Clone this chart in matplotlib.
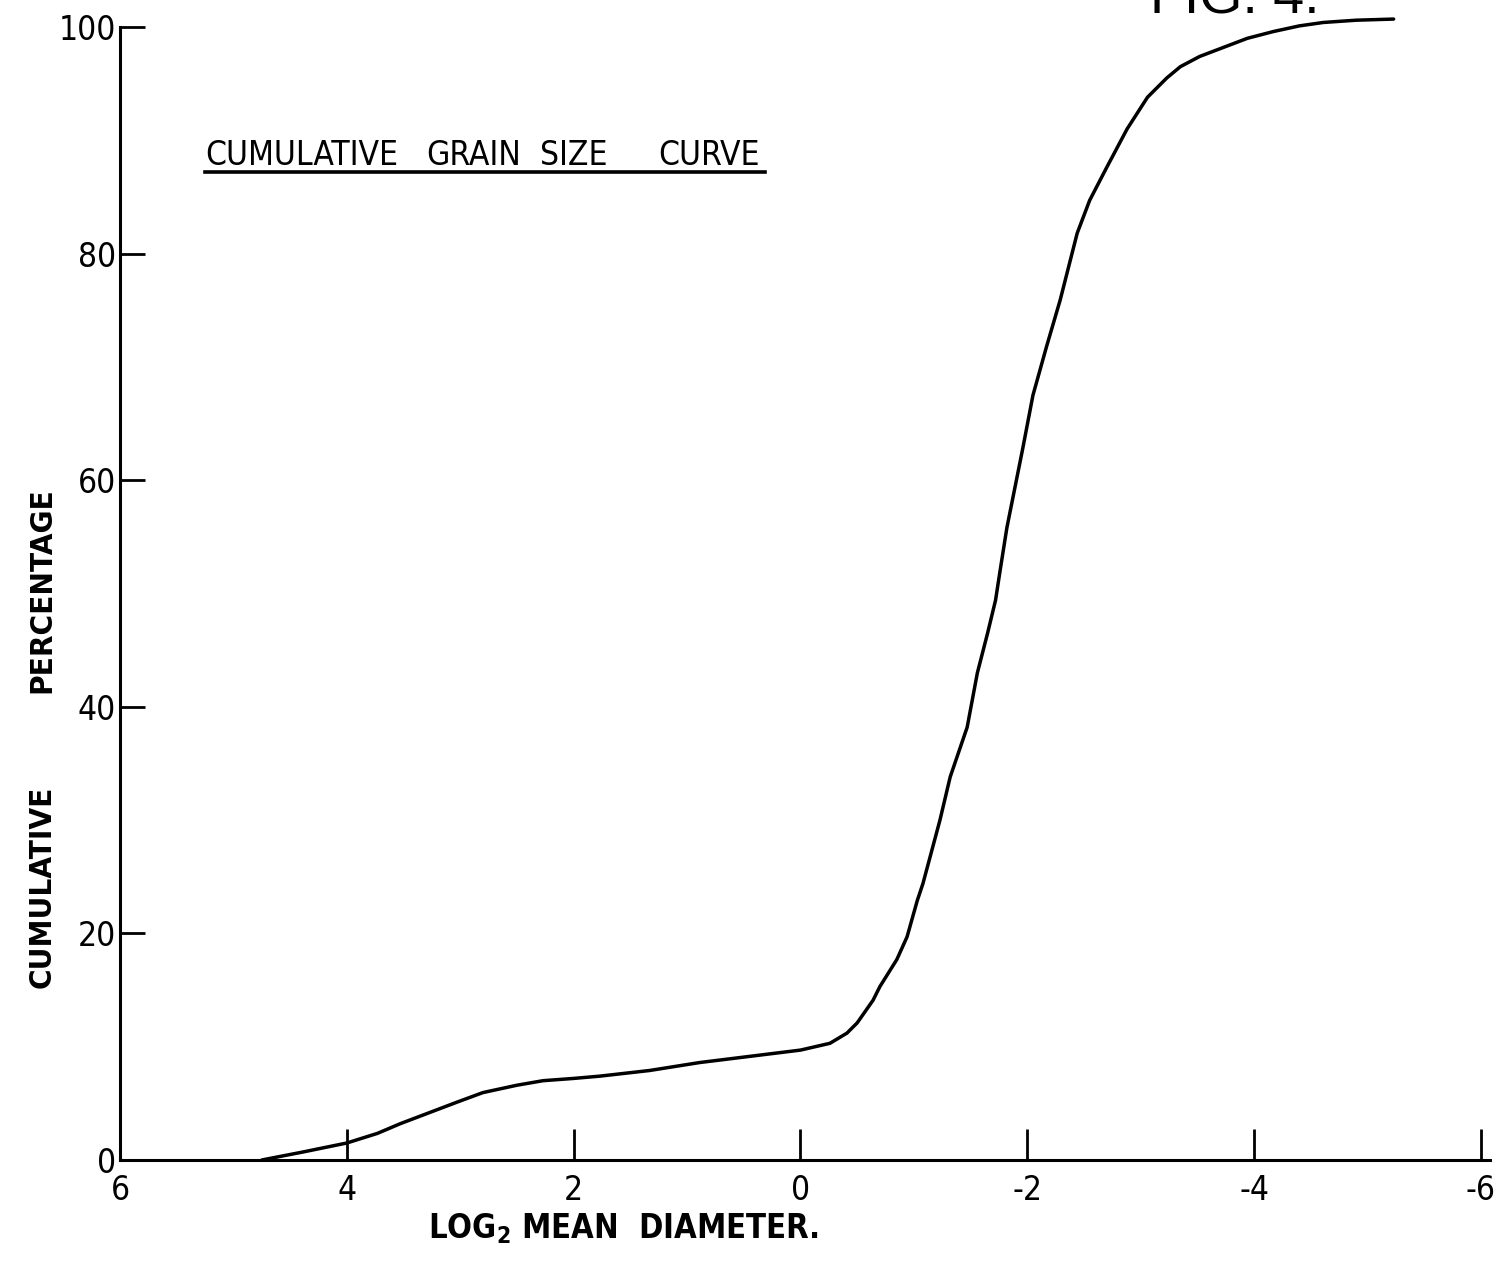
import matplotlib
matplotlib.use("Agg")
import matplotlib.pyplot as plt
from matplotlib.lines import Line2D


# Data

log2_diameter = [
    4.75, 4.39, 4.0, 3.73, 3.53, 3.03, 2.8, 2.5, 2.27, 2.0,
    1.77, 1.33, 0.89, 0.0, -0.26, -0.41, -0.5, -0.64, -0.70, -0.85,
    -0.94, -1.03, -1.08, -1.23, -1.32, -1.47, -1.56, -1.65, -1.72, -1.76,
    -1.82, -1.96, -2.05, -2.17, -2.29, -2.44, -2.55, -2.70, -2.88, -3.06,
    -3.23, -3.35, -3.52, -3.73, -3.94, -4.17, -4.4, -4.61, -4.9, -5.23
]
cumulative_pct = [
    0.0, 0.7, 1.5, 2.35, 3.2, 5.1, 5.95, 6.6, 7.0, 7.2,
    7.4, 7.9, 8.6, 9.7, 10.3, 11.2, 12.1, 14.1, 15.3, 17.7,
    19.7, 22.9, 24.4, 30.0, 33.8, 38.2, 43.0, 46.5, 49.4, 52.0,
    55.8, 62.8, 67.5, 71.8, 75.9, 81.8, 84.7, 87.6, 91.0, 93.8,
    95.5, 96.5, 97.4, 98.2, 99.0, 99.6, 100.1, 100.4, 100.6, 100.7
]

x_ticks = [6, 4, 2, 0, -2, -4, -6]
y_ticks = [0, 20, 40, 60, 80, 100]

title_words = ["CUMULATIVE", "GRAIN", "SIZE", "CURVE"]


# Setup

plt.rcParams.update({
    "font.family": ["DejaVu Sans"],
    "font.stretch": "condensed",
    "axes.unicode_minus": False,
    "mathtext.fontset": "dejavusans",
    "figure.facecolor": "white",
    "axes.facecolor": "white",
})

W, H = 1498, 1267
fig = plt.figure(figsize=(W / 100, H / 100), dpi=100)
ax = fig.add_axes([120 / W, 107 / H, 1370 / W, 1133 / H])

ax.plot(log2_diameter, cumulative_pct, color="black", linewidth=2.5,
        clip_on=False, solid_capstyle="round", solid_joinstyle="round")

ax.set_xlim(6, -6.08)
ax.set_ylim(0, 100)
ax.set_xticks(x_ticks)
ax.set_yticks(y_ticks)

for side in ["top", "right"]:
    ax.spines[side].set_visible(False)
for side in ["left", "bottom"]:
    ax.spines[side].set_linewidth(2.2)
    ax.spines[side].set_color("black")

ax.tick_params(axis="y", direction="in", length=18, width=2.0, pad=3,
               labelsize=24)
ax.tick_params(axis="x", direction="in", length=22, width=2.0, pad=10,
               labelsize=24)


# Labels

fig.text(42 / W, 1 - 590 / H, "PERCENTAGE", rotation=90, ha="center",
         va="center", fontsize=22.5, fontweight="bold")
fig.text(42 / W, 1 - 887 / H, "CUMULATIVE", rotation=90, ha="center",
         va="center", fontsize=22.5, fontweight="bold")

fig.text(428 / W, 1 - 1238 / H, r"LOG$_{\mathbf{2}}$ MEAN  DIAMETER.",
         ha="left", va="baseline", fontsize=23.5, fontweight="bold")

# hand-lettered title, words spaced as drawn, underlined
title_x = [205, 426, 540, 658]
for word, xp in zip(title_words, title_x):
    fig.text(xp / W, 1 - 165 / H, word, ha="left", va="baseline",
             fontsize=24)
fig.add_artist(Line2D([205 / W, 765 / W], [1 - 172 / H, 1 - 172 / H],
                      color="black", linewidth=2.6,
                      transform=fig.transFigure))

fig.text(1150 / W, 1 - 14 / H, "FIG. 4.", ha="left", va="baseline",
         fontsize=40, family=["Liberation Sans", "DejaVu Sans"],
         stretch="normal")

fig.savefig("out.png", dpi=100)
